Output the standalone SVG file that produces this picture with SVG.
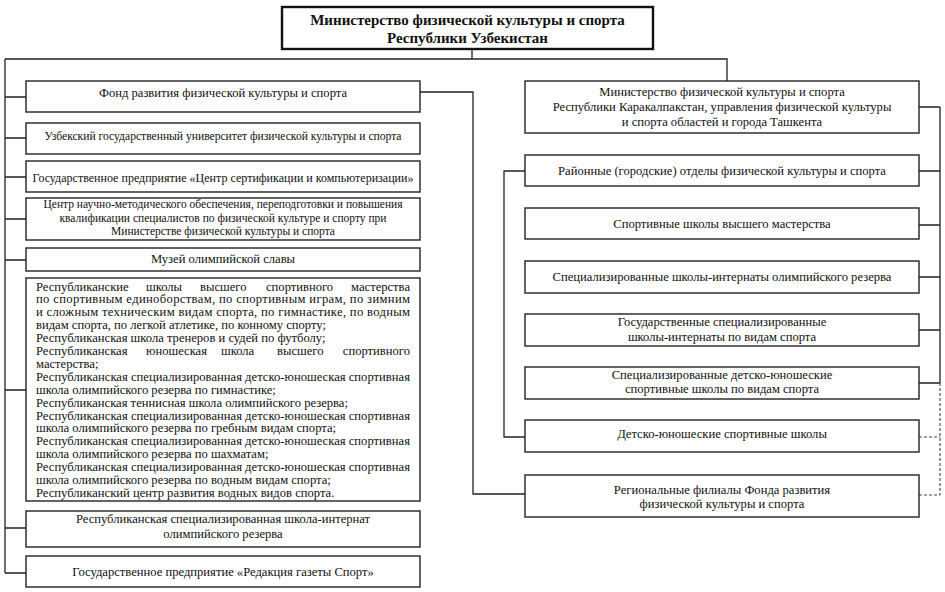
<svg xmlns="http://www.w3.org/2000/svg" width="945" height="592" viewBox="0 0 945 592" font-family="'Liberation Serif', serif">
<style>
.box{fill:#fff;stroke:#222;stroke-width:1.4}
.top{fill:#fff;stroke:#111;stroke-width:2.4}
.t{font-size:12.6px;fill:#111}
.s{font-size:11.8px}
.c{text-anchor:middle}
.b{font-weight:bold;font-size:15px}
.ln{fill:none;stroke:#222;stroke-width:1.3}
.dash{fill:none;stroke:#444;stroke-width:1.1;stroke-dasharray:3,2}
</style>
<rect width="945" height="592" fill="#fff"/>
<g id="connectors">
<path class="ln" d="M472,49V59M5,59H727V81"/>
<path class="ln" d="M5,59V573M5,97H26M5,138H26M5,177H26M5,219H26M5,260H26M5,390H26M5,528H26M5,573H26"/>
<path class="ln" d="M420,92H473V494H525"/>
<path class="ln" d="M525,171H504V437H525"/>
<path class="ln" d="M940,107V383M919,107H940M919,171H940M919,225H940M919,277H940M919,330H940M919,383H940"/>
<path class="dash" d="M940,383V495M919,437H940M919,495H940"/>
</g>
<g id="ministry">
<rect class="top" x="282" y="7" width="371" height="42"/>
<text class="t c b" x="467.5" y="25">Министерство физической культуры и спорта</text>
<text class="t c b" x="467.5" y="43">Республики Узбекистан</text>
</g>
<g id="fond">
<rect class="box" x="26" y="81" width="394" height="31"/>
<text class="t c" x="223" y="96.5">Фонд развития физической культуры и спорта</text>
</g>
<g id="university">
<rect class="box" x="26" y="123" width="394" height="31"/>
<text class="t c" x="223" y="140" textLength="357" lengthAdjust="spacingAndGlyphs">Узбекский государственный университет физической культуры и спорта</text>
</g>
<g id="certification">
<rect class="box" x="26" y="161" width="394" height="31"/>
<text class="t c" x="223" y="181.5" textLength="381" lengthAdjust="spacingAndGlyphs">Государственное предприятие «Центр сертификации и компьютеризации»</text>
</g>
<g id="center">
<rect class="box" x="26" y="198" width="394" height="42"/>
<text class="t s c" x="223" y="208" textLength="359" lengthAdjust="spacingAndGlyphs">Центр научно-методического обеспечения, переподготовки и повышения</text>
<text class="t s c" x="223" y="222" textLength="327" lengthAdjust="spacingAndGlyphs">квалификации специалистов по физической культуре и спорту при</text>
<text class="t s c" x="223" y="235" textLength="224" lengthAdjust="spacingAndGlyphs">Министерстве физической культуры и спорта</text>
</g>
<g id="museum">
<rect class="box" x="26" y="248" width="394" height="23"/>
<text class="t c" x="223" y="263">Музей олимпийской славы</text>
</g>
<g id="schools">
<rect class="box" x="26" y="278" width="394" height="223"/>
<text class="t" y="290.5"><tspan x="36">Республиканские</tspan><tspan x="146">школы</tspan><tspan x="200">высшего</tspan><tspan x="266">спортивного</tspan><tspan x="410" text-anchor="end">мастерства</tspan></text>
<text class="t" x="36" y="303.4" textLength="374" lengthAdjust="spacing">по спортивным единоборствам, по спортивным играм, по зимним</text>
<text class="t" x="36" y="316.3" textLength="374" lengthAdjust="spacing">и сложным техническим видам спорта, по гимнастике, по водным</text>
<text class="t" x="36" y="329.2">видам спорта, по легкой атлетике, по конному спорту;</text>
<text class="t" x="36" y="342.1">Республиканская школа тренеров и судей по футболу;</text>
<text class="t" y="355"><tspan x="36">Республиканская</tspan><tspan x="146">юношеская</tspan><tspan x="221">школа</tspan><tspan x="277">высшего</tspan><tspan x="410" text-anchor="end">спортивного</tspan></text>
<text class="t" x="36" y="367.9">мастерства;</text>
<text class="t" x="36" y="380.8" textLength="374" lengthAdjust="spacing">Республиканская специализированная детско-юношеская спортивная</text>
<text class="t" x="36" y="393.7">школа олимпийского резерва по гимнастике;</text>
<text class="t" x="36" y="406.6">Республиканская теннисная школа олимпийского резерва;</text>
<text class="t" x="36" y="419.5" textLength="374" lengthAdjust="spacing">Республиканская специализированная детско-юношеская спортивная</text>
<text class="t" x="36" y="432.4">школа олимпийского резерва по гребным видам спорта;</text>
<text class="t" x="36" y="445.3" textLength="374" lengthAdjust="spacing">Республиканская специализированная детско-юношеская спортивная</text>
<text class="t" x="36" y="458.2">школа олимпийского резерва по шахматам;</text>
<text class="t" x="36" y="471.1" textLength="374" lengthAdjust="spacing">Республиканская специализированная детско-юношеская спортивная</text>
<text class="t" x="36" y="484">школа олимпийского резерва по водным видам спорта;</text>
<text class="t" x="36" y="496.9">Республиканский центр развития водных видов спорта.</text>
</g>
<g id="internat">
<rect class="box" x="26" y="511" width="394" height="36"/>
<text class="t c" x="223" y="523">Республиканская специализированная школа-интернат</text>
<text class="t c" x="223" y="538">олимпийского резерва</text>
</g>
<g id="gazeta">
<rect class="box" x="26" y="556" width="394" height="31"/>
<text class="t c" x="223" y="575.5">Государственное предприятие «Редакция газеты Спорт»</text>
</g>
<g id="regional-ministry">
<rect class="box" x="525" y="81" width="394" height="52"/>
<text class="t c" x="722" y="96">Министерство физической культуры и спорта</text>
<text class="t c" x="722" y="111">Республики Каракалпакстан, управления физической культуры</text>
<text class="t c" x="722" y="125.5">и спорта областей и города Ташкента</text>
</g>
<g id="district">
<rect class="box" x="525" y="155" width="394" height="31"/>
<text class="t c" x="722" y="174.5">Районные (городские) отделы физической культуры и спорта</text>
</g>
<g id="higher-schools">
<rect class="box" x="525" y="208" width="394" height="31"/>
<text class="t c" x="722" y="228">Спортивные школы высшего мастерства</text>
</g>
<g id="internat-schools">
<rect class="box" x="525" y="261" width="394" height="32"/>
<text class="t c" x="722" y="280.5">Специализированные школы-интернаты олимпийского резерва</text>
</g>
<g id="state-internat">
<rect class="box" x="525" y="314" width="394" height="32"/>
<text class="t c" x="722" y="326">Государственные специализированные</text>
<text class="t c" x="722" y="341">школы-интернаты по видам спорта</text>
</g>
<g id="spec-youth">
<rect class="box" x="525" y="367" width="394" height="32"/>
<text class="t c" x="722" y="379">Специализированные детско-юношеские</text>
<text class="t c" x="722" y="393">спортивные школы по видам спорта</text>
</g>
<g id="youth">
<rect class="box" x="525" y="420" width="394" height="32"/>
<text class="t c" x="722" y="438">Детско-юношеские спортивные школы</text>
</g>
<g id="regional-fond">
<rect class="box" x="525" y="475" width="394" height="42"/>
<text class="t c" x="722" y="494">Региональные филиалы Фонда развития</text>
<text class="t c" x="722" y="507.5">физической культуры и спорта</text>
</g>
</svg>
